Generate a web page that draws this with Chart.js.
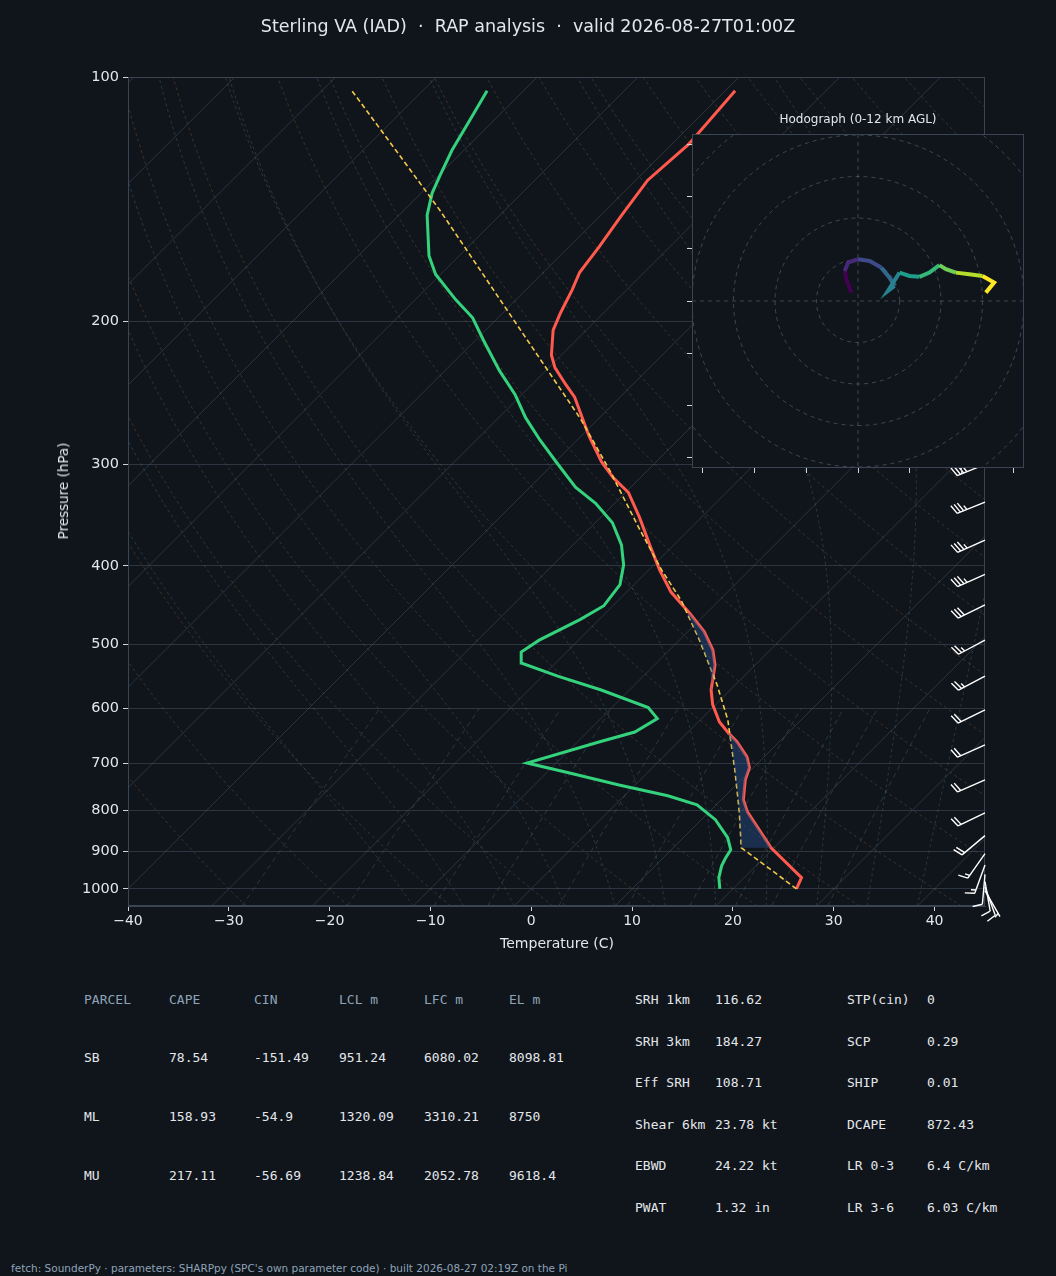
<!DOCTYPE html>
<html><head><meta charset="utf-8">
<script src="https://cdn.jsdelivr.net/npm/chart.js@4.4.1/dist/chart.umd.min.js"></script>
<style>
body{margin:0;background:#10151b;width:1056px;height:1276px;overflow:hidden;font-family:"DejaVu Sans",sans-serif;color:#e3e7ec;position:relative}
#main{position:absolute;left:0;top:0;width:1056px;height:960px}
#hodo{position:absolute;left:684px;top:134px;width:340px;height:340px}
.t{position:absolute;white-space:nowrap}
.mono{font-family:"DejaVu Sans Mono",monospace;font-size:13px;position:absolute;white-space:nowrap}
.hd{color:#8ea3b8}
</style></head><body>
<div id="main"><canvas id="skewt"></canvas></div>
<div id="hodo"><canvas id="hodoCv"></canvas></div>
<div class="t" style="left:0;width:1056px;top:16px;text-align:center;font-size:17.5px">Sterling VA (IAD) &nbsp;·&nbsp; RAP analysis &nbsp;·&nbsp; valid 2026-08-27T01:00Z</div>
<div class="t" style="left:858px;top:112px;transform:translateX(-50%);font-size:12px">Hodograph (0-12 km AGL)</div>
<div class="t" style="left:63px;top:491px;transform:translate(-50%,-50%) rotate(-90deg);font-size:13.5px;font-weight:normal;color:#e3e7ec">Pressure (hPa)</div>
<div class="t" style="left:557px;top:935px;transform:translateX(-50%);font-size:14px">Temperature (C)</div>
<div id="tables"></div>
<div class="t" style="left:11px;top:1262px;font-size:10.5px;color:#8ea3b8">fetch: SounderPy · parameters: SHARPpy (SPC's own parameter code) · built 2026-08-27 02:19Z on the Pi</div>
<script>
const SKEW = 35;
const pTicks = [100, 200, 300, 400, 500, 600, 700, 800, 900, 1000];
const tTicks = [-40, -30, -20, -10, 0, 10, 20, 30, 40];

const tempP = [1000, 969, 890, 804, 777, 734, 709, 688, 659, 642, 623, 593, 569, 530, 508, 482, 458, 431, 405, 377, 349, 325, 312, 298, 277, 248, 239, 228, 220, 205, 195, 183, 174, 162, 148, 134, 121, 104];
const tempC = [26.3, 25.7, 19.7, 13.8, 12.2, 10.4, 9.6, 8.3, 5.8, 4.0, 2.1, -0.3, -1.9, -4.0, -5.7, -8.4, -11.6, -15.6, -18.9, -22.4, -26.1, -29.7, -32.6, -35.4, -39.2, -44.5, -46.7, -49.4, -51.0, -53.3, -54.3, -55.4, -56.4, -57.0, -57.9, -58.8, -58.3, -59.0];

const dewP = [1000, 969, 937, 916, 895, 865, 822, 788, 768, 745, 720, 700, 659, 641, 617, 598, 569, 547, 527, 511, 494, 466, 448, 422, 399, 377, 354, 335, 320, 298, 280, 263, 246, 230, 211, 198, 188, 175, 166, 148, 139, 132, 123, 113, 104];
const dewC = [18.7, 17.5, 16.6, 16.2, 15.9, 14.4, 11.4, 8.1, 4.3, -1.6, -7.7, -12.9, -7.8, -5.3, -4.4, -6.4, -12.8, -18.5, -23.4, -24.5, -23.9, -21.9, -20.9, -21.4, -23.0, -25.2, -28.3, -31.9, -35.5, -39.9, -43.7, -47.3, -50.7, -54.6, -59.2, -62.5, -66.0, -70.5, -73.0, -77.2, -78.9, -79.9, -81.2, -82.4, -83.6];

const parcelP = [1000, 890, 804, 714, 619, 561, 494, 441, 405, 361, 305, 264, 223, 188, 146, 123, 104];
const parcelC = [26.3, 16.75, 13.0, 8.4, 2.7, -1.8, -8.0, -13.8, -18.7, -24.9, -33.8, -41.7, -51.6, -61.6, -76.4, -86.8, -97.0];

const barbP = [300, 334, 372, 410, 447, 494, 547, 602, 665, 734, 806, 860, 905, 935, 960, 980, 995, 1005];
const barbDir = [248, 248, 246, 246, 244, 242, 242, 244, 246, 246, 244, 230, 215, 200, 185, 170, 160, 150];
const barbKt = [35, 35, 35, 35, 30, 25, 25, 20, 20, 20, 20, 20, 15, 15, 10, 10, 10, 5];

const hodoU = [-1.6, -2.8, -3.2, -2.4, 0, 2.8, 5.6, 7.6, 8.8, 7.2, 10.0, 12.4, 14.8, 17.2, 19.6, 21.2, 23.6, 26.8, 30.0, 32.8, 30.8];
const hodoV = [2.0, 5.2, 7.2, 9.2, 10.0, 9.6, 8.0, 5.6, 3.6, 2.4, 6.8, 6.0, 5.8, 6.8, 8.6, 7.6, 6.8, 6.4, 6.0, 4.4, 2.0];

const parcelHead = ['PARCEL', 'CAPE', 'CIN', 'LCL m', 'LFC m', 'EL m'];
const parcelRows = [
  ['SB', '78.54', '-151.49', '951.24', '6080.02', '8098.81'],
  ['ML', '158.93', '-54.9', '1320.09', '3310.21', '8750'],
  ['MU', '217.11', '-56.69', '1238.84', '2052.78', '9618.4']
];
const paramsA = [['SRH 1km', '116.62'], ['SRH 3km', '184.27'], ['Eff SRH', '108.71'], ['Shear 6km', '23.78 kt'], ['EBWD', '24.22 kt'], ['PWAT', '1.32 in']];
const paramsB = [['STP(cin)', '0'], ['SCP', '0.29'], ['SHIP', '0.01'], ['DCAPE', '872.43'], ['LR 0-3', '6.4 C/km'], ['LR 3-6', '6.03 C/km']];

// skewed x position
const sx = (t, p) => t + SKEW * Math.log(1000 / p);
const toXY = (P, T) => P.map((p, i) => ({x: sx(T[i], p), y: p}));

function interpLog(P, T, p) {
  for (let i = 0; i < P.length - 1; i++) {
    if (p <= P[i] && p >= P[i + 1]) {
      const f = Math.log(P[i] / p) / Math.log(P[i] / P[i + 1]);
      return T[i] + f * (T[i + 1] - T[i]);
    }
  }
  return null;
}

// CIN shading polygon, where environment is warmer than the parcel
function cinShape() {
  const ps = [...new Set([...tempP, ...parcelP])].filter(p => p <= 890 && p >= 455).sort((a, b) => b - a);
  const lo = [], hi = [];
  ps.forEach(p => {
    const te = interpLog(tempP, tempC, p), pa = interpLog(parcelP, parcelC, p);
    if (te === null || pa === null) return;
    lo.push({x: sx(Math.min(pa, te), p), y: p});
    hi.push({x: sx(te, p), y: p});
  });
  return lo.concat(hi.reverse());
}

const background = {
  id: 'background',
  beforeDatasetsDraw(chart) {
    const {ctx, chartArea: a, scales: {x, y}} = chart;
    ctx.save();
    ctx.beginPath(); ctx.rect(a.left, a.top, a.right - a.left, a.bottom - a.top); ctx.clip();
    const path = (fn, pTop, pBot, step) => {
      ctx.beginPath();
      let first = true;
      for (let p = pBot; p >= pTop; p -= step) {
        const t = fn(p);
        const px = x.getPixelForValue(sx(t, p)), py = y.getPixelForValue(p);
        first ? ctx.moveTo(px, py) : ctx.lineTo(px, py); first = false;
      }
      ctx.stroke();
    };
    // isotherms
    ctx.strokeStyle = 'rgba(80,92,108,0.55)'; ctx.lineWidth = 0.8; ctx.setLineDash([]);
    for (let t = -150; t <= 50; t += 10) path(() => t, 100, 1050, 950);
    // dry adiabats
    ctx.strokeStyle = 'rgba(140,105,70,0.45)'; ctx.setLineDash([3, 3]);
    for (let th = -30; th <= 200; th += 10) path(p => (th + 273.15) * Math.pow(p / 1000, 0.2857) - 273.15, 100, 1050, 10);
    // moist adiabats
    ctx.strokeStyle = 'rgba(70,110,125,0.5)';
    for (let t0 = -10; t0 <= 40; t0 += 5) {
      let T = t0 + 273.15;
      const pts = [];
      for (let p = 1050; p >= 100; p -= 5) {
        pts.push([p, T - 273.15]);
        const es = 6.112 * Math.exp(17.67 * (T - 273.15) / (T - 29.65));
        const rs = 0.622 * es / (p - es);
        const dTdp = (287 * T + 2.5e6 * rs) / (p * (1004 + 2.5e6 * 2.5e6 * rs * 0.622 / (287 * T * T)));
        T -= dTdp * 5;
      }
      ctx.beginPath();
      pts.forEach(([p, t], i) => {
        const px = x.getPixelForValue(sx(t, p)), py = y.getPixelForValue(p);
        i ? ctx.lineTo(px, py) : ctx.moveTo(px, py);
      });
      ctx.stroke();
    }
    // mixing ratio lines
    ctx.strokeStyle = 'rgba(80,110,110,0.5)'; ctx.setLineDash([5, 4]);
    [0.4, 1, 2, 3, 5, 8, 12, 16, 20, 28].forEach(w => {
      path(p => {
        const e = (w / 1000) * p / (0.622 + w / 1000);
        const l = Math.log(e / 6.112);
        return 243.5 * l / (17.67 - l);
      }, 600, 1050, 10);
    });
    ctx.restore();
  }
};

const barbs = {
  id: 'barbs',
  afterDatasetsDraw(chart) {
    const {ctx, chartArea: a, scales: {y}} = chart;
    ctx.save();
    // frame around the plot area
    ctx.strokeStyle = '#3a4452'; ctx.lineWidth = 1;
    ctx.strokeRect(a.left + 0.5, a.top + 0.5, a.right - a.left - 1, a.bottom - a.top - 1);
    ctx.strokeStyle = '#ffffff'; ctx.lineWidth = 1.4; ctx.setLineDash([]);
    barbP.forEach((p, i) => {
      const bx = a.right, by = y.getPixelForValue(p);
      const r = barbDir[i] * Math.PI / 180;
      const dx = Math.sin(r), dy = -Math.cos(r);
      const L = 30;
      const tx = bx + dx * L, ty = by + dy * L;
      ctx.beginPath(); ctx.moveTo(bx, by); ctx.lineTo(tx, ty);
      // barbs sit on the upper side of the staff, leaning toward the tail
      const nx = -dy, ny = dx;
      const bxv = nx * 0.95 + dx * 0.3, byv = ny * 0.95 + dy * 0.3;
      let kt = Math.round(barbKt[i] / 5) * 5, k = 0;
      while (kt >= 10) {
        const ox = tx - dx * k * 3.5, oy = ty - dy * k * 3.5;
        ctx.moveTo(ox, oy); ctx.lineTo(ox + bxv * 10, oy + byv * 10);
        kt -= 10; k++;
      }
      if (kt >= 5) {
        if (k === 0) k = 1;
        const ox = tx - dx * k * 3.5, oy = ty - dy * k * 3.5;
        ctx.moveTo(ox, oy); ctx.lineTo(ox + bxv * 5, oy + byv * 5);
      }
      ctx.stroke();
    });
    ctx.restore();
  }
};

new Chart(document.getElementById('skewt'), {
  type: 'scatter',
  data: {
    datasets: [
      {data: cinShape(), showLine: true, fill: 'shape', backgroundColor: 'rgba(40,80,140,0.45)', borderWidth: 0, pointRadius: 0},
      {data: toXY(parcelP, parcelC), showLine: true, borderColor: '#f2c94c', borderWidth: 1.6, borderDash: [5, 3], pointRadius: 0},
      {data: toXY(dewP, dewC), showLine: true, borderColor: '#34d27c', borderWidth: 3, pointRadius: 0},
      {data: toXY(tempP, tempC), showLine: true, borderColor: '#ff5a4d', borderWidth: 3, pointRadius: 0}
    ]
  },
  options: {
    responsive: true, maintainAspectRatio: false, animation: false,
    layout: {padding: {top: 77, right: 71, left: 0, bottom: 0}},
    plugins: {legend: {display: false}, tooltip: {enabled: false}},
    scales: {
      x: {
        type: 'linear', min: -40, max: 45,
        afterBuildTicks: s => { s.ticks = tTicks.map(v => ({value: v})); },
        afterFit: s => { s.height = 54; },
        ticks: {color: '#e3e7ec', font: {size: 14, family: 'DejaVu Sans'}, callback: v => v < 0 ? '\u2212' + Math.abs(v) : v, padding: 2},
        grid: {drawOnChartArea: false, color: '#cfd5dc', tickLength: 5},
        border: {color: '#3a4452'}
      },
      y: {
        type: 'logarithmic', min: 100, max: 1050, reverse: true,
        afterBuildTicks: s => { s.ticks = pTicks.map(v => ({value: v})); },
        afterFit: s => { s.width = 128; },
        ticks: {color: '#e3e7ec', font: {size: 14.5, family: 'DejaVu Sans'}, callback: v => v, padding: 4},
        grid: {color: 'rgba(70,80,95,0.55)', tickLength: 5, tickColor: '#cfd5dc'},
        border: {color: '#3a4452'}
      }
    }
  },
  plugins: [background, barbs]
});

// hodograph
const viridis = ['#440154', '#482878', '#3e4a89', '#31688e', '#26828e', '#1f9e89', '#35b779', '#6ece58', '#b5de2b', '#fde725'];
const hodoBg = {
  id: 'hodoBg',
  beforeDatasetsDraw(chart) {
    const {ctx, chartArea: a, scales: {x, y}} = chart;
    ctx.save();
    ctx.fillStyle = '#10151b';
    ctx.fillRect(a.left, a.top, a.right - a.left, a.bottom - a.top);
    ctx.beginPath(); ctx.rect(a.left, a.top, a.right - a.left, a.bottom - a.top); ctx.clip();
    ctx.strokeStyle = 'rgba(110,120,135,0.5)'; ctx.lineWidth = 1; ctx.setLineDash([4, 4]);
    const cx = x.getPixelForValue(0), cy = y.getPixelForValue(0);
    for (let r = 10; r <= 60; r += 10) {
      ctx.beginPath(); ctx.arc(cx, cy, x.getPixelForValue(r) - cx, 0, 2 * Math.PI); ctx.stroke();
    }
    ctx.beginPath(); ctx.moveTo(a.left, cy); ctx.lineTo(a.right, cy); ctx.moveTo(cx, a.top); ctx.lineTo(cx, a.bottom); ctx.stroke();
    ctx.restore();
    ctx.save();
    ctx.strokeStyle = '#3a4452'; ctx.lineWidth = 1;
    ctx.strokeRect(a.left + 0.5, a.top + 0.5, a.right - a.left - 1, a.bottom - a.top - 1);
    ctx.restore();
  }
};
const hodoTicks = [-37.5, -25, -12.5, 0, 12.5, 25, 37.5];
new Chart(document.getElementById('hodoCv'), {
  type: 'scatter',
  data: {datasets: [{
    data: hodoU.map((u, i) => ({x: u, y: hodoV[i]})),
    showLine: true, pointRadius: 0, borderWidth: 4,
    segment: {borderColor: c => viridis[Math.min(9, Math.floor(c.p0DataIndex / (hodoU.length - 1) * 10))]}
  }]},
  options: {
    responsive: true, maintainAspectRatio: false, animation: false,
    layout: {padding: 0},
    plugins: {legend: {display: false}, tooltip: {enabled: false}},
    scales: {
      x: {min: -40, max: 40, afterBuildTicks: s => { s.ticks = hodoTicks.map(v => ({value: v})); },
        afterFit: s => { s.height = 6; }, ticks: {display: false},
        grid: {drawOnChartArea: false, tickLength: 5, color: '#cfd5dc'}, border: {display: false}},
      y: {min: -40, max: 40, afterBuildTicks: s => { s.ticks = hodoTicks.map(v => ({value: v})); },
        afterFit: s => { s.width = 8; }, ticks: {display: false},
        grid: {drawOnChartArea: false, tickLength: 5, color: '#cfd5dc'}, border: {display: false}}
    }
  },
  plugins: [hodoBg]
});

// parameter tables
let html = '';
const colX = [84, 169, 254, 339, 424, 509];
parcelHead.forEach((h, j) => { html += `<div class="mono hd" style="left:${colX[j]}px;top:992px">${h}</div>`; });
parcelRows.forEach((r, i) => r.forEach((v, j) => {
  html += `<div class="mono" style="left:${colX[j]}px;top:${1050 + i * 59}px">${v}</div>`;
}));
paramsA.forEach((r, i) => {
  html += `<div class="mono" style="left:635px;top:${992 + i * 41.5}px">${r[0]}</div><div class="mono" style="left:715px;top:${992 + i * 41.5}px">${r[1]}</div>`;
});
paramsB.forEach((r, i) => {
  html += `<div class="mono" style="left:847px;top:${992 + i * 41.5}px">${r[0]}</div><div class="mono" style="left:927px;top:${992 + i * 41.5}px">${r[1]}</div>`;
});
document.getElementById('tables').innerHTML = html;
</script>
</body></html>
